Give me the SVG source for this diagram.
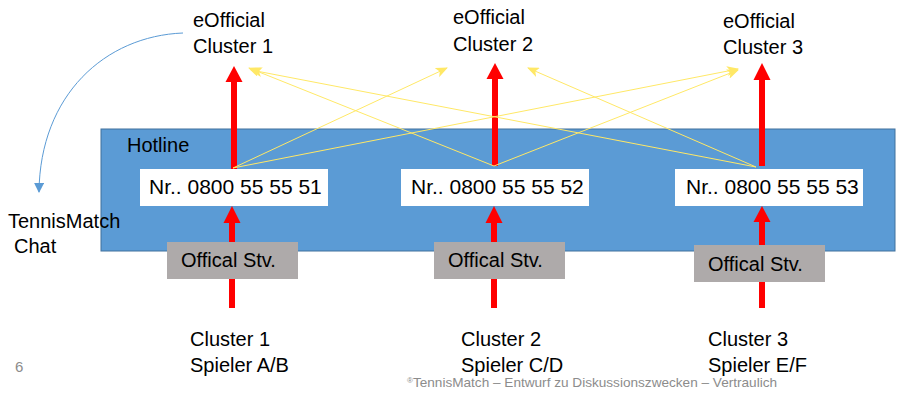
<svg xmlns="http://www.w3.org/2000/svg" width="897" height="394" viewBox="0 0 897 394">
<style>
  text { font-family: "Liberation Sans", Arial, sans-serif; fill: #000; }
  .t20 { font-size: 20px; }
  .num { font-size: 21px; }
  .red { fill: #FF0000; }
  .yl { stroke: #FFE866; stroke-width: 1; fill: none; marker-end: url(#ya); }
  .box { fill: #FFFFFF; }
  .gray { fill: #AEAAAA; }
  .foot { font-size: 13.6px; fill: #8C8C8C; }
</style>
<defs>
  <marker id="ya" markerUnits="userSpaceOnUse" markerWidth="12" markerHeight="10" viewBox="0 0 12 10" refX="11" refY="5" orient="auto">
    <path d="M0,0 L12,5 L0,10 L3,5 Z" fill="#FFE866"/>
  </marker>
  <marker id="ba" markerUnits="userSpaceOnUse" markerWidth="10" markerHeight="10" viewBox="0 0 10 10" refX="9" refY="5" orient="auto">
    <path d="M0,0 L10,5 L0,10 Z" fill="#5B9BD5"/>
  </marker>
</defs>

<g id="hotline">
  <rect x="101" y="129" width="794" height="122" fill="#5B9BD5" stroke="#41719C" stroke-width="1"/>
  <text class="t20" x="127" y="152">Hotline</text>
</g>

<g id="connectors">
  <path class="red" d="M231,169 L231,82 L225.5,82 L234,66 L242.5,82 L237,82 L237,169 Z"/>
  <path class="red" d="M492,166 L492,79 L486.5,79 L495,63 L503.5,79 L498,79 L498,166 Z"/>
  <path class="red" d="M759,166 L759,80 L753.5,80 L762,63 L770.5,80 L765,80 L765,166 Z"/>
  <path class="red" d="M229,308 L229,223 L223.5,223 L232,206 L240.5,223 L235,223 L235,308 Z"/>
  <path class="red" d="M491,308 L491,223 L485.5,223 L494,206 L502.5,223 L497,223 L497,308 Z"/>
  <path class="red" d="M759,308 L759,222 L753.5,222 L762,206 L770.5,222 L765,222 L765,308 Z"/>
  <line class="yl" x1="233" y1="168" x2="447" y2="68"/>
  <line class="yl" x1="233" y1="168" x2="738" y2="69"/>
  <line class="yl" x1="494" y1="166" x2="249" y2="68"/>
  <line class="yl" x1="494" y1="166" x2="738" y2="70"/>
  <line class="yl" x1="756" y1="167" x2="251" y2="70"/>
  <line class="yl" x1="756" y1="167" x2="528" y2="68"/>
  <path d="M183,33 C105,36 40,95 39,192" fill="none" stroke="#5B9BD5" stroke-width="1" marker-end="url(#ba)"/>
</g>

<g id="eofficial1">
  <text class="t20" x="193" y="27">eOfficial</text>
  <text class="t20" x="193" y="53">Cluster 1</text>
</g>
<g id="eofficial2">
  <text class="t20" x="453" y="24">eOfficial</text>
  <text class="t20" x="453" y="51">Cluster 2</text>
</g>
<g id="eofficial3">
  <text class="t20" x="723" y="28">eOfficial</text>
  <text class="t20" x="723" y="54">Cluster 3</text>
</g>

<g id="nr1">
  <rect class="box" x="140" y="169" width="188" height="37"/>
  <text class="num" x="149" y="194">Nr.. 0800 55 55 51</text>
</g>
<g id="nr2">
  <rect class="box" x="401" y="169" width="188" height="37"/>
  <text class="num" x="411" y="194">Nr.. 0800 55 55 52</text>
</g>
<g id="nr3">
  <rect class="box" x="675" y="169" width="188" height="37"/>
  <text class="num" x="686" y="194">Nr.. 0800 55 55 53</text>
</g>

<g id="stv1">
  <rect class="gray" x="167" y="242" width="131" height="37"/>
  <text class="t20" x="181" y="267">Offical Stv.</text>
</g>
<g id="stv2">
  <rect class="gray" x="434" y="242" width="131" height="37"/>
  <text class="t20" x="448" y="267">Offical Stv.</text>
</g>
<g id="stv3">
  <rect class="gray" x="694" y="245" width="131" height="37"/>
  <text class="t20" x="708" y="271">Offical Stv.</text>
</g>

<g id="chat">
  <text class="t20" x="8" y="228">TennisMatch</text>
  <text class="t20" x="14" y="253">Chat</text>
</g>

<g id="players1">
  <text class="t20" x="190" y="346">Cluster 1</text>
  <text class="t20" x="190" y="372">Spieler A/B</text>
</g>
<g id="players2">
  <text class="t20" x="461" y="346">Cluster 2</text>
  <text class="t20" x="461" y="372">Spieler C/D</text>
</g>
<g id="players3">
  <text class="t20" x="708" y="346">Cluster 3</text>
  <text class="t20" x="708" y="372">Spieler E/F</text>
</g>

<text x="15" y="372" style="font-size:15px; fill:#8C8C8C">6</text>
<text class="foot" x="407" y="387"><tspan style="font-size:8px" dy="-4">®</tspan><tspan dy="4">TennisMatch – Entwurf zu Diskussionszwecken – Vertraulich</tspan></text>
</svg>
